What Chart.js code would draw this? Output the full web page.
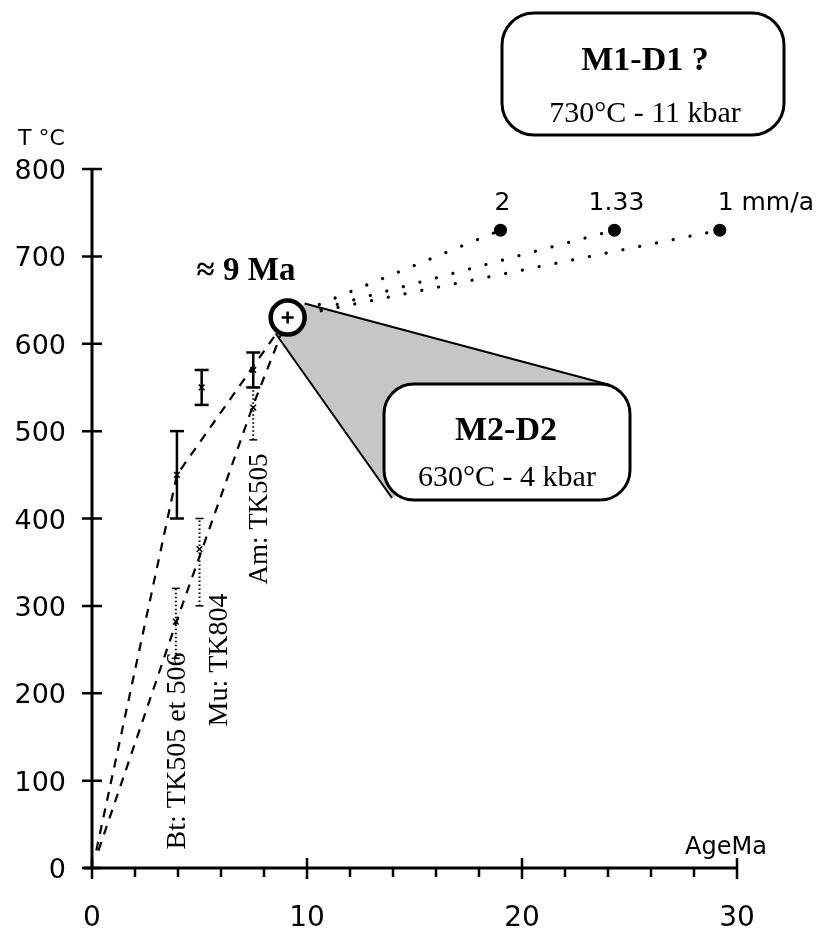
<!DOCTYPE html>
<html>
<head>
<meta charset="utf-8">
<script src="https://cdn.jsdelivr.net/npm/chart.js@4/dist/chart.umd.min.js"></script>
<style>
  html, body { margin: 0; padding: 0; background: #fff; }
  #chart { display: block; }
</style>
</head>
<body>
<canvas id="chart" width="823" height="929"></canvas>
<script>
// Axes
const xTickValues = [0, 10, 20, 30];
const xTickLabels = ['0', '10', '20', '30'];
const xMinorValues = [2, 4, 6, 8, 12, 14, 16, 18, 22, 24, 26, 28];
const yTickValues = [0, 100, 200, 300, 400, 500, 600, 700, 800];
const yTickLabels = ['0', '100', '200', '300', '400', '500', '600', '700', '800'];

// Trajets de refroidissement (tirets)
const pathAAge = [0.2, 3.95, 9.1];
const pathATemp = [20, 450, 630];
const pathBAge = [0.3, 3.9, 7.5, 9.1];
const pathBTemp = [20, 280, 530, 630];

// Pic M2-D2
const peakAge = 9.1;
const peakTemp = 630;

// Vitesses d'exhumation
const rateLabels = ['2', '1.33', '1 mm/a'];
const rateAge = [19.0, 24.3, 29.2];
const rateTemp = [730, 730, 730];

// Barres d'erreur (Bt, Mu, Am)
const barAge = [3.95, 5.1, 7.5, 3.9, 5.0, 7.5];
const barTemp = [450, 550, 570, 282, 365, 527];
const barLow = [400, 530, 550, 240, 300, 490];
const barHigh = [500, 570, 590, 320, 400, 550];
const barDotted = [false, false, false, true, true, true];

const SERIF = '"Liberation Serif", "Times New Roman", serif';
const SANS = '"DejaVu Sans", Verdana, sans-serif';

const datasets = [];

// cercle autour du pic + petite croix
datasets.push({
    data: [{ x: peakAge, y: peakTemp }],
    pointStyle: 'cross', pointRadius: 6, pointBorderWidth: 2.5,
    borderColor: '#000', order: 0,
});
datasets.push({
    data: [{ x: peakAge, y: peakTemp }],
    pointRadius: 17, pointBorderWidth: 4.5,
    pointBackgroundColor: '#fff', borderColor: '#000', order: 1,
});

// barres d'erreur
barAge.forEach((age, i) => {
    datasets.push({
        data: [{ x: age, y: barLow[i] }, { x: age, y: barHigh[i] }],
        showLine: true,
        borderColor: '#000',
        borderWidth: barDotted[i] ? 2 : 2.5,
        borderDash: barDotted[i] ? [1.5, 2.5] : [],
        pointStyle: 'line',
        pointRadius: barDotted[i] ? 4 : 7,
        pointBorderWidth: barDotted[i] ? 1.5 : 2.5,
        order: 3,
    });
});
datasets.push({
    data: barAge.map((a, i) => ({ x: a, y: barTemp[i] })),
    pointStyle: 'crossRot', pointRadius: 4, pointBorderWidth: 1.5,
    borderColor: '#000', order: 2,
});

// trajets en tirets
[[pathAAge, pathATemp], [pathBAge, pathBTemp]].forEach(([ages, temps]) => {
    datasets.push({
        data: ages.map((a, i) => ({ x: a, y: temps[i] })),
        showLine: true, borderColor: '#000', borderWidth: 2.2,
        borderDash: [9, 8], pointRadius: 0, order: 4,
    });
});

// lignes pointillees vers les vitesses
rateAge.forEach((age, i) => {
    datasets.push({
        data: [{ x: peakAge, y: peakTemp }, { x: age, y: rateTemp[i] }],
        showLine: true, borderColor: '#000', borderWidth: 3.2,
        borderDash: [0.1, 17], borderCapStyle: 'round',
        pointRadius: [0, 6.5], pointBackgroundColor: '#000',
        pointBorderWidth: 0, order: 5,
    });
});

function roundBox(ctx, x, y, w, h, r) {
    ctx.beginPath();
    ctx.moveTo(x + r, y);
    ctx.arcTo(x + w, y, x + w, y + h, r);
    ctx.arcTo(x + w, y + h, x, y + h, r);
    ctx.arcTo(x, y + h, x, y, r);
    ctx.arcTo(x, y, x + w, y, r);
    ctx.closePath();
    ctx.fillStyle = '#fff';
    ctx.fill();
    ctx.lineWidth = 3;
    ctx.strokeStyle = '#000';
    ctx.stroke();
}

function text(ctx, str, x, y, font, align, rot) {
    ctx.save();
    ctx.translate(x, y);
    if (rot) ctx.rotate(rot);
    ctx.font = font;
    ctx.fillStyle = '#000';
    ctx.textAlign = align || 'center';
    ctx.textBaseline = 'alphabetic';
    ctx.fillText(str, 0, 0);
    ctx.restore();
}

const decorPlugin = {
    id: 'decor',
    beforeDatasetsDraw(chart) {
        const { ctx, scales: { x, y } } = chart;
        const cx = x.getPixelForValue(peakAge);
        const cy = y.getPixelForValue(peakTemp);

        // triangle gris vers la boite M2-D2
        ctx.save();
        ctx.beginPath();
        ctx.moveTo(cx + 17, cy - 14);
        ctx.lineTo(610, 385);
        ctx.lineTo(392, 498);
        ctx.lineTo(cx - 12, cy + 16);
        ctx.closePath();
        ctx.fillStyle = '#c6c6c6';
        ctx.fill();
        ctx.beginPath();
        ctx.moveTo(cx + 17, cy - 14);
        ctx.lineTo(610, 385);
        ctx.moveTo(cx - 12, cy + 16);
        ctx.lineTo(392, 498);
        ctx.lineWidth = 2;
        ctx.strokeStyle = '#000';
        ctx.stroke();
        ctx.restore();

        // axes
        const x0 = x.getPixelForValue(0);
        const y0 = y.getPixelForValue(0);
        ctx.save();
        ctx.strokeStyle = '#000';
        ctx.lineWidth = 3;
        ctx.beginPath();
        ctx.moveTo(x0, y.getPixelForValue(800));
        ctx.lineTo(x0, y0);
        ctx.moveTo(x0 - 8, y0);
        ctx.lineTo(x.getPixelForValue(30), y0);
        ctx.stroke();

        ctx.lineWidth = 2.5;
        ctx.beginPath();
        yTickValues.forEach(v => {
            const py = y.getPixelForValue(v);
            ctx.moveTo(x0 - 10, py);
            ctx.lineTo(x0 + 10, py);
        });
        xTickValues.forEach(v => {
            const px = x.getPixelForValue(v);
            ctx.moveTo(px, y0 - 10);
            ctx.lineTo(px, y0 + 11);
        });
        xMinorValues.forEach(v => {
            const px = x.getPixelForValue(v);
            ctx.moveTo(px, y0);
            ctx.lineTo(px, y0 + 9);
        });
        ctx.stroke();
        ctx.restore();

        yTickValues.forEach((v, i) => {
            text(ctx, yTickLabels[i], 66, y.getPixelForValue(v) + 10, '27px ' + SANS, 'right');
        });
        xTickValues.forEach((v, i) => {
            text(ctx, xTickLabels[i], x.getPixelForValue(v), 926, '28px ' + SANS, 'center');
        });
    },
    afterDatasetsDraw(chart) {
        const { ctx, scales: { x, y } } = chart;

        text(ctx, 'T °C', 18, 145, '22px ' + SANS, 'left');
        text(ctx, 'AgeMa', 726, 854, '24px ' + SANS, 'center');

        rateAge.forEach((age, i) => {
            const px = x.getPixelForValue(age) + (i === 2 ? 46 : 2);
            text(ctx, rateLabels[i], px, y.getPixelForValue(rateTemp[i]) - 20, '25px ' + SANS, 'center');
        });

        text(ctx, '≈ 9 Ma', 246, 280, 'bold 33px ' + SERIF, 'center');

        text(ctx, 'Bt: TK505 et 506', 185, 751, '28px ' + SERIF, 'center', -Math.PI / 2);
        text(ctx, 'Mu: TK804', 227, 660, '28px ' + SERIF, 'center', -Math.PI / 2);
        text(ctx, 'Am: TK505', 267, 519, '27px ' + SERIF, 'center', -Math.PI / 2);

        roundBox(ctx, 384, 384, 246, 116, 30);
        text(ctx, 'M2-D2', 506, 440, 'bold 34px ' + SERIF, 'center');
        text(ctx, '630°C - 4 kbar', 507, 486, '30px ' + SERIF, 'center');

        roundBox(ctx, 502, 13, 282, 122, 32);
        text(ctx, 'M1-D1 ?', 645, 70, 'bold 34px ' + SERIF, 'center');
        text(ctx, '730°C - 11 kbar', 645, 122, '30px ' + SERIF, 'center');
    },
};

new Chart(document.getElementById('chart'), {
    type: 'scatter',
    data: { datasets: datasets },
    options: {
        responsive: false,
        animation: false,
        layout: { padding: { left: 92, right: 86, top: 169, bottom: 61 } },
        scales: {
            x: { type: 'linear', min: 0, max: 30, display: false },
            y: { type: 'linear', min: 0, max: 800, display: false },
        },
        plugins: { legend: { display: false }, tooltip: { enabled: false } },
        elements: { line: { tension: 0 } },
    },
    plugins: [decorPlugin],
});
</script>
</body>
</html>
